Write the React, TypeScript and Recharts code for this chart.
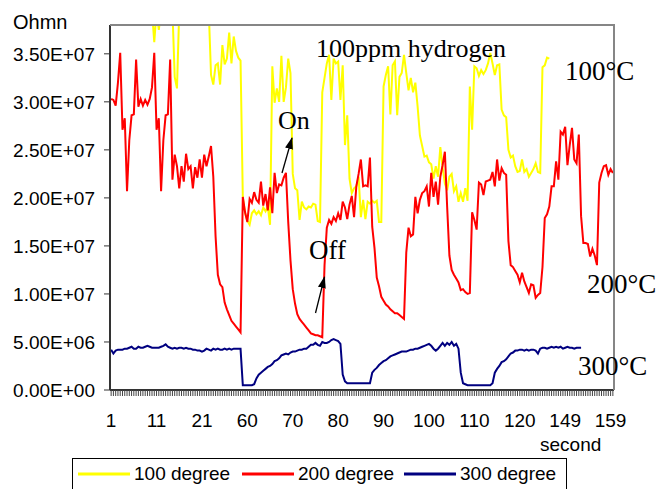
import { LineChart, Line, XAxis, YAxis } from "recharts";

// resistance readings, in units of 1E+07 Ohm, one value per sample
const deg100 = [
  3.95, 3.95, 3.95, 3.95, 3.95, 3.95, 3.95, 3.95, 3.95, 3.95,
  3.95, 3.95, 3.95, 3.95, 3.95, 3.95, 3.95, 3.95, 3.95, 3.62,
  3.95, 3.75, 3.95, 3.95, 3.95, 3.79, 3.95, 3.95, 3.26, 3.14,
  3.95, 3.95, 3.95, 3.95, 3.95, 3.95, 3.95, 3.95, 3.95, 3.95,
  3.95, 3.95, 3.95, 3.95, 3.28, 3.18, 3.38, 3.40, 3.18, 3.59,
  3.39, 3.45, 3.72, 3.40, 3.68, 3.53, 3.46, 3.43, 2.01, 1.84,
  1.76, 1.72, 1.84, 1.87, 1.83, 1.86, 1.82, 1.90, 1.86, 1.91,
  1.72, 3.37, 2.99, 3.14, 3.00, 3.48, 3.00, 3.15, 3.45, 3.30,
  2.25, 2.10, 2.08, 1.77, 1.96, 1.90, 1.88, 1.91, 1.90, 1.94,
  1.93, 1.76, 1.75, 3.10, 3.25, 3.40, 3.49, 3.02, 3.45, 3.40,
  3.42, 3.02, 3.38, 2.55, 2.86, 2.20, 2.05, 2.10, 2.12, 2.22,
  1.80, 1.98, 1.78, 1.96, 1.94, 1.97, 1.95, 1.97, 1.75, 1.75,
  3.16, 3.28, 3.37, 2.87, 3.38, 3.42, 2.86, 3.26, 3.30, 3.49,
  3.30, 3.12, 3.25, 3.10, 3.20, 2.95, 2.65, 2.54, 2.43, 2.44,
  2.37, 2.35, 2.20, 2.33, 2.22, 2.53, 2.32, 2.15, 2.08, 2.22,
  2.25, 2.07, 2.12, 1.96, 2.05, 1.96, 2.10, 1.97, 3.16, 2.71,
  3.37, 3.35, 3.27, 3.33, 3.29, 3.33, 3.40, 3.51, 3.40, 3.28,
  3.38, 3.39, 2.92, 2.86, 2.84, 2.50, 2.42, 2.44, 2.33, 2.27,
  2.28, 2.40, 2.27, 2.30, 2.22, 2.26, 2.30, 2.36, 2.27, 2.26,
  3.36, 3.38, 3.46, 3.45,
];

const deg200 = [
  3.03, 3.02, 2.96, 3.20, 3.51, 2.71, 2.83, 2.07, 2.60, 2.86,
  2.87, 3.44, 2.95, 3.03, 2.96, 3.02, 2.97, 3.03, 3.15, 3.51,
  2.71, 2.83, 2.07, 2.60, 2.86, 2.87, 3.44, 2.19, 2.45, 2.33,
  2.10, 2.33, 2.17, 2.46, 2.30, 2.33, 2.10, 2.32, 2.21, 2.40,
  2.21, 2.45, 2.33, 2.43, 2.54, 2.22, 1.60, 1.20, 1.10, 1.07,
  0.91, 0.84, 0.78, 0.72, 0.69, 0.66, 0.63, 0.60, 2.01, 1.85,
  1.75, 1.99, 1.95, 2.06, 1.98, 1.95, 2.17, 1.92, 2.04, 1.87,
  2.11, 1.84, 2.26, 2.05, 2.14, 2.13, 2.21, 2.26, 1.75, 1.35,
  1.05, 0.90, 0.79, 0.74, 0.71, 0.68, 0.65, 0.62, 0.59, 0.58,
  0.57, 0.57, 0.56, 0.55, 1.30, 1.69, 1.77, 1.73, 1.80, 1.76,
  1.84, 1.77, 1.96, 1.90, 1.78, 1.93, 2.02, 1.80, 2.12, 2.25,
  2.40, 2.12, 2.13, 2.12, 2.42, 1.70, 1.48, 1.17, 1.08, 0.97,
  0.93, 0.89, 0.87, 0.84, 0.82, 0.80, 0.80, 0.78, 0.76, 0.74,
  1.43, 1.69, 1.60, 1.62, 2.01, 1.84, 1.98, 2.05, 2.07, 2.12,
  1.91, 2.26, 2.01, 2.17, 1.93, 2.22, 2.34, 2.48, 1.91, 1.40,
  1.25, 1.20, 1.16, 1.12, 1.04, 1.05, 1.02, 1.00, 1.01, 1.85,
  1.77, 1.67, 2.16, 2.14, 2.03, 2.17, 2.18, 2.19, 2.27, 2.12,
  2.40, 2.18, 2.31, 2.26, 2.24, 1.55, 1.30, 1.28, 1.24, 1.20,
  1.12, 1.22, 1.13, 1.07, 1.01, 1.10, 1.09, 0.96, 0.99, 1.01,
  1.28, 1.79, 1.83, 1.91, 2.12, 2.12, 2.38, 2.19, 2.69, 2.66,
  2.74, 2.34, 2.55, 2.73, 2.40, 2.36, 2.66, 1.81, 1.53, 1.53,
  1.52, 1.39, 1.47, 1.40, 1.30, 2.16, 2.26, 2.33, 2.34, 2.24,
  2.30, 2.26,
];

const deg300 = [
  0.42, 0.38, 0.41, 0.42, 0.42, 0.42, 0.43, 0.43, 0.44, 0.45,
  0.43, 0.43, 0.45, 0.44, 0.44, 0.45, 0.46, 0.45, 0.44, 0.44,
  0.44, 0.44, 0.45, 0.46, 0.475, 0.45, 0.44, 0.43, 0.44, 0.43,
  0.44, 0.44, 0.43, 0.44, 0.43, 0.43, 0.42, 0.42, 0.41, 0.41,
  0.40, 0.41, 0.43, 0.42, 0.41, 0.43, 0.42, 0.43, 0.42, 0.42,
  0.43, 0.42, 0.43, 0.42, 0.43, 0.43, 0.43, 0.43, 0.05, 0.05,
  0.05, 0.05, 0.05, 0.06, 0.12, 0.16, 0.18, 0.20, 0.22, 0.24,
  0.25, 0.27, 0.30, 0.31, 0.33, 0.36, 0.37, 0.38, 0.37, 0.39,
  0.40, 0.40, 0.41, 0.42, 0.42, 0.43, 0.43, 0.45, 0.47, 0.47,
  0.49, 0.47, 0.46, 0.50, 0.49, 0.49, 0.50, 0.52, 0.53, 0.52,
  0.51, 0.48, 0.16, 0.09, 0.07, 0.07, 0.07, 0.07, 0.07, 0.07,
  0.07, 0.07, 0.07, 0.07, 0.07, 0.18, 0.21, 0.23, 0.26, 0.28,
  0.30, 0.31, 0.33, 0.35, 0.36, 0.37, 0.38, 0.39, 0.40, 0.40,
  0.40, 0.41, 0.42, 0.42, 0.43, 0.43, 0.44, 0.45, 0.46, 0.47,
  0.48, 0.46, 0.43, 0.41, 0.43, 0.46, 0.49, 0.46, 0.49, 0.47,
  0.50, 0.46, 0.48, 0.43, 0.18, 0.07, 0.06, 0.05, 0.05, 0.05,
  0.05, 0.05, 0.05, 0.05, 0.05, 0.05, 0.05, 0.05, 0.07, 0.18,
  0.22, 0.25, 0.29, 0.30, 0.32, 0.35, 0.38, 0.39, 0.41, 0.41,
  0.42, 0.42, 0.41, 0.42, 0.41, 0.42, 0.42, 0.41, 0.38, 0.43,
  0.44, 0.44, 0.43, 0.44, 0.45, 0.44, 0.45, 0.44, 0.45, 0.43,
  0.44, 0.45, 0.44, 0.44, 0.43, 0.44, 0.44, 0.44,
];

// labels shown under every 20th sample
const tickLabels = ["1", "11", "21", "60", "70", "80", "90", "100", "110", "120", "149", "159"];
const yTicks = [0, 5e6, 1e7, 1.5e7, 2e7, 2.5e7, 3e7, 3.5e7];

const series = [
  { key: "d100", name: "100 degree", color: "#FFFF00", values: deg100 },
  { key: "d200", name: "200 degree", color: "#FF0000", values: deg200 },
  { key: "d300", name: "300 degree", color: "#000080", values: deg300 },
];

const rows = deg200.map((_, i) => {
  const row: Record<string, number | null> = { idx: i };
  series.forEach((s) => {
    const v = s.values[i];
    row[s.key] = v == null ? null : v * 1e7;
  });
  return row;
});

const SANS = "Liberation Sans, Arial, sans-serif";
const SERIF = "Liberation Serif, Times New Roman, serif";

const sci = (v: number) => {
  const [m, e] = v.toExponential(2).split("e");
  return `${m}E${e[0]}${e.slice(1).padStart(2, "0")}`;
};

const W = 661;
const H = 489;
const plot = { left: 110, top: 25, right: 614, bottom: 390 };

const Overlay = () => (
  <svg
    width={W}
    height={H}
    style={{ position: "absolute", left: 0, top: 0, pointerEvents: "none" }}
  >
    <defs>
      <marker
        id="head"
        viewBox="0 0 12 8"
        refX="11"
        refY="4"
        markerWidth="12"
        markerHeight="8"
        markerUnits="userSpaceOnUse"
        orient="auto"
      >
        <path d="M0,0 L12,4 L0,8 z" fill="#000" />
      </marker>
    </defs>
    {/* plot frame, top and right */}
    <polyline
      points={`${plot.left},${plot.top} ${plot.right},${plot.top} ${plot.right},${plot.bottom}`}
      fill="none"
      stroke="#868686"
      strokeWidth={2}
    />
    <text x={13} y={29} fontFamily={SANS} fontSize={20}>Ohmn</text>
    <text x={540} y={451} fontFamily={SANS} fontSize={19}>second</text>

    <g fontFamily={SERIF} fill="#000">
      <text x={316} y={57} fontSize={26}>100ppm hydrogen</text>
      <text x={565} y={80} fontSize={27}>100°C</text>
      <text x={587} y={293} fontSize={27}>200°C</text>
      <text x={578} y={375} fontSize={27}>300°C</text>
      <text x={278} y={129} fontSize={26}>On</text>
      <text x={309} y={259} fontSize={27}>Off</text>
    </g>
    <line x1={282} y1={173} x2={292} y2={138} stroke="#000" strokeWidth={1.3} markerEnd="url(#head)" />
    <line x1={315.5} y1={313} x2={324.5} y2={277} stroke="#000" strokeWidth={1.3} markerEnd="url(#head)" />

    {/* legend */}
    <rect x={72.5} y={458.5} width={494} height={40} fill="#fff" stroke="#000" strokeWidth={1} />
    {series.map((s, i) => {
      const x0 = [78, 242, 404][i];
      return (
        <g key={s.key}>
          <line x1={x0} y1={474} x2={x0 + 52} y2={474} stroke={s.color} strokeWidth={3} />
          <text x={x0 + 56} y={480} fontFamily={SANS} fontSize={19}>{s.name}</text>
        </g>
      );
    })}
  </svg>
);

export default function App() {
  return (
    <div style={{ position: "absolute", left: 0, top: 0, width: W, height: H, background: "#fff" }}>
      <LineChart
        width={W}
        height={H}
        data={rows}
        margin={{ top: plot.top, right: W - plot.right, bottom: 0, left: 0 }}
      >
        <XAxis
          dataKey="idx"
          type="number"
          domain={[-0.5, deg200.length - 0.5]}
          allowDataOverflow
          ticks={rows.map((r) => r.idx as number)}
          interval={0}
          height={H - plot.bottom}
          tickSize={6}
          tickMargin={18}
          tickFormatter={(v: number) => (v % 20 === 0 ? tickLabels[v / 20] : "")}
          tick={{ fill: "#000", fontSize: 19, fontFamily: SANS }}
          axisLine={{ stroke: "#333", strokeWidth: 2 }}
          tickLine={{ stroke: "#444", strokeWidth: 1 }}
        />
        <YAxis
          domain={[0, 3.8e7]}
          allowDataOverflow
          ticks={yTicks}
          width={plot.left}
          tickSize={6}
          tickMargin={9}
          tickFormatter={sci}
          tick={{ fill: "#000", fontSize: 19, fontFamily: SANS }}
          axisLine={{ stroke: "#333", strokeWidth: 2 }}
          tickLine={{ stroke: "#333", strokeWidth: 1 }}
        />
        {series.map((s) => (
          <Line
            key={s.key}
            dataKey={s.key}
            name={s.name}
            type="linear"
            stroke={s.color}
            strokeWidth={2}
            dot={false}
            isAnimationActive={false}
          />
        ))}
      </LineChart>
      <Overlay />
    </div>
  );
}
